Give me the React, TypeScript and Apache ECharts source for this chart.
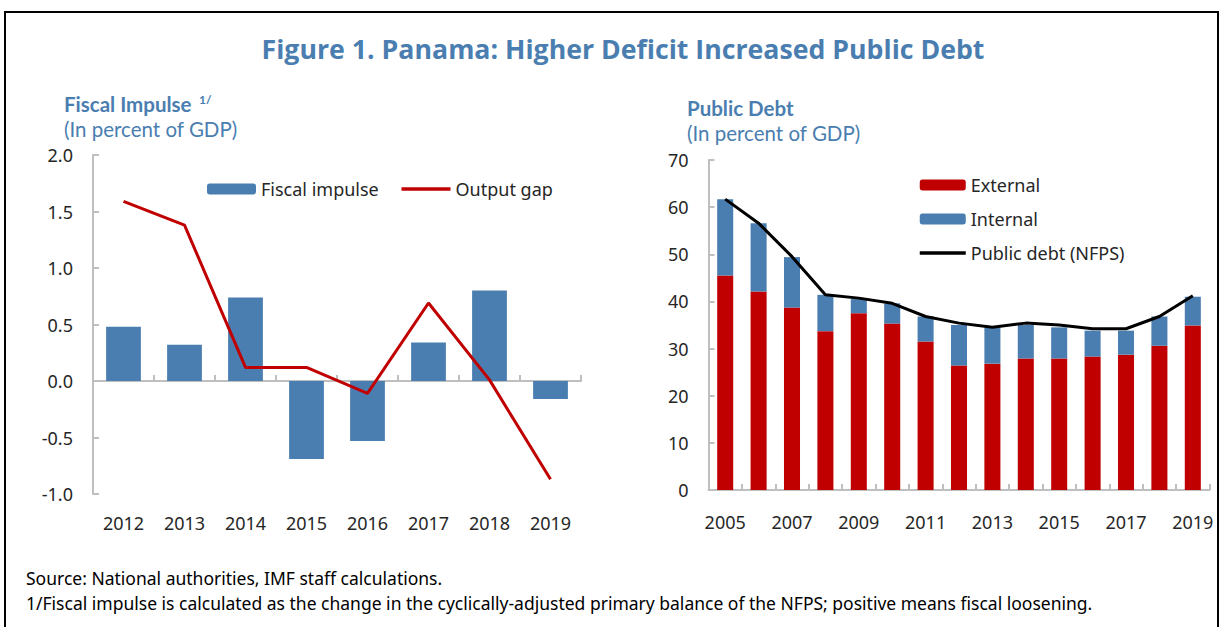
import React, { useEffect, useRef } from "react";
import * as echarts from "echarts";

const impulseYears = ["2012", "2013", "2014", "2015", "2016", "2017", "2018", "2019"];
const fiscalImpulse = [0.48, 0.32, 0.74, -0.69, -0.53, 0.34, 0.8, -0.16];
const outputGap = [1.59, 1.38, 0.12, 0.12, -0.11, 0.69, 0.01, -0.87];

const debtYears = ["2005", "2006", "2007", "2008", "2009", "2010", "2011", "2012", "2013", "2014", "2015", "2016", "2017", "2018", "2019"];
const externalDebt = [45.5, 42.1, 38.7, 33.7, 37.5, 35.3, 31.5, 26.4, 26.8, 27.9, 27.9, 28.3, 28.7, 30.6, 34.9];
const internalDebt = [16.2, 14.5, 10.7, 7.7, 3.0, 4.3, 5.3, 8.6, 7.7, 7.1, 6.6, 5.5, 5.1, 6.2, 6.1];
const publicDebt = [61.7, 56.6, 49.5, 41.4, 40.7, 39.6, 36.8, 35.4, 34.5, 35.4, 35.0, 34.2, 34.2, 36.8, 41.2];

const titleText = "Figure 1. Panama: Higher Deficit Increased Public Debt";
const leftTitle = "Fiscal Impulse";
const rightTitle = "Public Debt";
const unitText = "(In percent of GDP)";
const sourceText = "Source: National authorities, IMF staff calculations.";
const noteText = "1/Fiscal impulse is calculated as the change in the cyclically-adjusted primary balance of the NFPS; positive means fiscal loosening.";

const BLUE = "#4A7EB0";
const RED = "#C00000";
const AXIS = "#BFBFBF";
const LABEL = "#262626";
const FONT = "'Noto Sans', sans-serif";
const TFONT = "'Open Sans', 'Noto Sans', sans-serif";
const SFONT = "Lato, 'Noto Sans', sans-serif";

export default function App() {
  const ref = useRef<HTMLDivElement>(null);
  useEffect(() => {
    if (!ref.current) return;
    const chart = echarts.init(ref.current, null, { renderer: "svg" });
    const axisLabel = { color: LABEL, fontSize: 18, fontFamily: FONT };
    const hideDot = { opacity: 0 };
    chart.setOption({
      animation: false,
      backgroundColor: "#fff",
      textStyle: { fontFamily: FONT },
      grid: [
        { left: 93, top: 155, width: 488, height: 339 },
        { left: 708.5, top: 160, width: 501, height: 330 },
      ],
      xAxis: [
        {
          type: "category", gridIndex: 0, data: impulseYears,
          axisLine: { show: false, onZero: false }, axisTick: { show: false },
          axisLabel: { ...axisLabel, margin: 20 },
        },
        {
          type: "category", gridIndex: 0, data: impulseYears, position: "bottom",
          axisLine: { show: true, onZero: true, onZeroAxisIndex: 0, lineStyle: { color: AXIS, width: 2 } },
          axisTick: { show: true, inside: true, length: 6, lineStyle: { color: AXIS, width: 2 } },
          axisLabel: { show: false },
        },
        {
          type: "category", gridIndex: 1, data: debtYears,
          axisLine: { lineStyle: { color: AXIS, width: 2 } },
          axisTick: { show: true, inside: true, length: 6, interval: 0, lineStyle: { color: AXIS, width: 2 } },
          axisLabel: { ...axisLabel, margin: 23, interval: 1 },
        },
      ],
      yAxis: [
        {
          type: "value", gridIndex: 0, min: -1, max: 2, interval: 0.5,
          splitLine: { show: false },
          axisLine: { show: true, lineStyle: { color: AXIS, width: 2 } },
          axisTick: { show: true, inside: true, length: 6, lineStyle: { color: AXIS, width: 2 } },
          axisLabel: { ...axisLabel, margin: 20, formatter: (v: number) => v.toFixed(1) },
        },
        {
          type: "value", gridIndex: 1, min: 0, max: 70, interval: 10,
          splitLine: { show: false },
          axisLine: { show: true, lineStyle: { color: AXIS, width: 2 } },
          axisTick: { show: true, inside: true, length: 6, lineStyle: { color: AXIS, width: 2 } },
          axisLabel: { ...axisLabel, margin: 20 },
        },
      ],
      legend: [
        {
          data: ["Fiscal impulse", { name: "Output gap", itemStyle: hideDot, lineStyle: { width: 3.5 } }],
          left: 202, top: 175, itemWidth: 49, itemHeight: 11, itemGap: 21,
          textStyle: { color: LABEL, fontSize: 18, fontFamily: FONT },
        },
        {
          data: ["External", "Internal", { name: "Public debt (NFPS)", itemStyle: hideDot, lineStyle: { width: 3.5 } }],
          orient: "vertical", left: 913, top: 171, itemWidth: 46, itemHeight: 11, itemGap: 16,
          textStyle: { color: LABEL, fontSize: 18, fontFamily: FONT },
        },
      ],
      series: [
        {
          name: "Fiscal impulse", type: "bar", xAxisIndex: 0, yAxisIndex: 0,
          data: fiscalImpulse, barWidth: "57%", itemStyle: { color: BLUE },
        },
        {
          name: "Output gap", type: "line", xAxisIndex: 0, yAxisIndex: 0,
          data: outputGap, symbol: "none", lineStyle: { color: RED, width: 3 }, itemStyle: { color: RED },
        },
        {
          name: "External", type: "bar", stack: "debt", xAxisIndex: 2, yAxisIndex: 1,
          data: externalDebt, barWidth: "48%", itemStyle: { color: RED },
        },
        {
          name: "Internal", type: "bar", stack: "debt", xAxisIndex: 2, yAxisIndex: 1,
          data: internalDebt, barWidth: "48%", itemStyle: { color: BLUE },
        },
        {
          name: "Public debt (NFPS)", type: "line", xAxisIndex: 2, yAxisIndex: 1,
          data: publicDebt, symbol: "none", lineStyle: { color: "#000", width: 3 }, itemStyle: { color: "#000" },
        },
      ],
      graphic: [
        { type: "rect", shape: { x: 5, y: 12, width: 1213, height: 700 }, style: { fill: "none", stroke: "#000", lineWidth: 2 }, silent: true },
        { type: "text", x: 623, y: 48, style: { text: titleText, fill: BLUE, font: `bold 26.7px ${TFONT}`, align: "center", verticalAlign: "middle" } },
        { type: "text", x: 64, y: 104, style: { text: leftTitle, fill: BLUE, font: `bold 20.5px ${SFONT}`, align: "left", verticalAlign: "middle" } },
        { type: "text", x: 199, y: 99, style: { text: "1/", fill: BLUE, font: `bold 12px ${SFONT}`, align: "left", verticalAlign: "middle" } },
        { type: "text", x: 64, y: 129, style: { text: unitText, fill: BLUE, font: `20.5px ${SFONT}`, align: "left", verticalAlign: "middle" } },
        { type: "text", x: 687, y: 108, style: { text: rightTitle, fill: BLUE, font: `bold 20.5px ${SFONT}`, align: "left", verticalAlign: "middle" } },
        { type: "text", x: 687, y: 133, style: { text: unitText, fill: BLUE, font: `20.5px ${SFONT}`, align: "left", verticalAlign: "middle" } },
        { type: "text", x: 26, y: 578, style: { text: sourceText, fill: "#000", font: `17.5px ${FONT}`, align: "left", verticalAlign: "middle" } },
        { type: "text", x: 26, y: 603, style: { text: noteText, fill: "#000", font: `17.5px ${FONT}`, align: "left", verticalAlign: "middle" } },
      ],
    });
    return () => chart.dispose();
  }, []);
  return <div ref={ref} style={{ position: "fixed", left: 0, top: 0, width: 1221, height: 627 }} />;
}
